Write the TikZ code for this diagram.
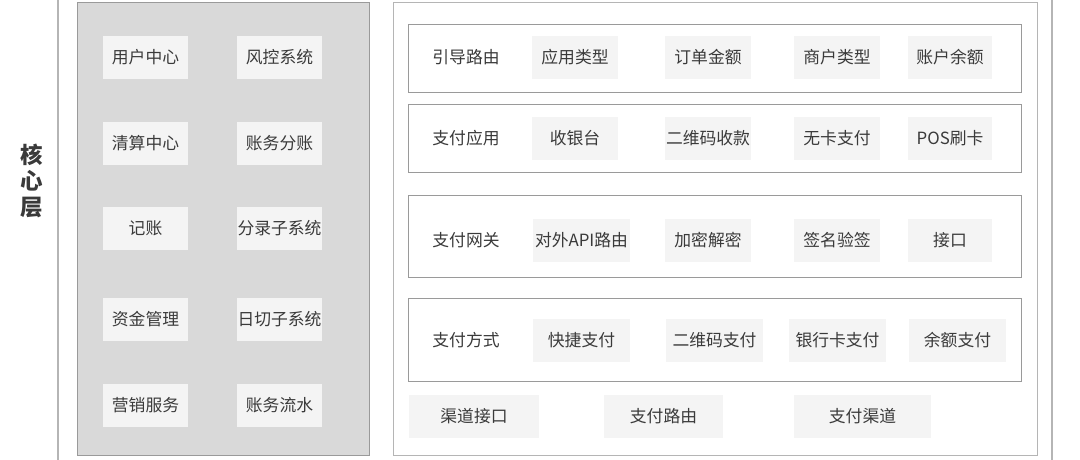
\documentclass[tikz,border=0pt]{standalone}
\usepackage{fontspec}
\setmainfont{Noto Sans CJK SC}
\begin{document}
\begin{tikzpicture}[x=1pt,y=-1pt,
  txt/.style={text=textgray, font=\fontsize{16.8}{19}\selectfont},
  item/.style={txt, fill=itemgray, minimum height=43pt, inner sep=0pt},
  lbox/.style={item, minimum width=85pt},
  rowbox/.style={draw=rowgray, line width=1pt, fill=white},
  lbl/.style={txt, inner sep=0pt}]
\definecolor{textgray}{HTML}{3A3A3A}
\definecolor{itemgray}{HTML}{F4F4F4}
\definecolor{rowgray}{HTML}{9A9A9A}
\definecolor{panelgray}{HTML}{D9D9D9}
\definecolor{framegray}{HTML}{B5B5B5}
\useasboundingbox (0,0) rectangle (1080,459);
\fill[white] (0,0) rectangle (1080,459);
% outer frame lines
\coordinate (ft1) at (58,-5); \coordinate (fb1) at (58,465);
\coordinate (ft2) at (1052,-5); \coordinate (fb2) at (1052,465);
\draw[framegray, line width=1.5pt] (ft1) -- (fb1);
\draw[framegray, line width=1.5pt] (ft2) -- (fb2);
% title
\node[text=textgray, font=\fontsize{22.5}{26}\selectfont\bfseries, align=center, inner sep=0pt] (title) at (32,181) {核\\心\\层};
% left panel
\node[draw=rowgray, line width=1pt, fill=panelgray, minimum width=292pt, minimum height=453pt, inner sep=0pt] (core) at (223,228.5) {};
\node[lbox] (l11) at (145.5,57.5) {用户中心};
\node[lbox] (l12) at (279.5,57.5) {风控系统};
\node[lbox] (l21) at (145.5,143.5) {清算中心};
\node[lbox] (l22) at (279.5,143.5) {账务分账};
\node[lbox] (l31) at (145.5,228.5) {记账};
\node[lbox] (l32) at (279.5,228.5) {分录子系统};
\node[lbox] (l41) at (145.5,319.5) {资金管理};
\node[lbox] (l42) at (279.5,319.5) {日切子系统};
\node[lbox] (l51) at (145.5,405.5) {营销服务};
\node[lbox] (l52) at (279.5,405.5) {账务流水};
% right panel
\node[draw=framegray, line width=1pt, fill=white, minimum width=644pt, minimum height=453pt, inner sep=0pt] (right) at (715,228.5) {};
\node[rowbox, minimum width=613pt, minimum height=68pt, inner sep=0pt] (r1) at (714.5,58) {};
\node[rowbox, minimum width=613pt, minimum height=68pt, inner sep=0pt] (r2) at (714.5,138) {};
\node[rowbox, minimum width=613pt, minimum height=82pt, inner sep=0pt] (r3) at (714.5,236) {};
\node[rowbox, minimum width=613pt, minimum height=83pt, inner sep=0pt] (r4) at (714.5,339.5) {};
% row 1
\node[lbl] (t1) at (466,57.5) {引导路由};
\node[item, minimum width=86pt] (a1) at (575,57.5) {应用类型};
\node[item, minimum width=86pt] (a2) at (708,57.5) {订单金额};
\node[item, minimum width=86pt] (a3) at (837,57.5) {商户类型};
\node[item, minimum width=84pt] (a4) at (950,57.5) {账户余额};
% row 2
\node[lbl] (t2) at (466,138.5) {支付应用};
\node[item, minimum width=86pt] (b1) at (575,138.5) {收银台};
\node[item, minimum width=86pt] (b2) at (708,138.5) {二维码收款};
\node[item, minimum width=86pt] (b3) at (837,138.5) {无卡支付};
\node[item, minimum width=84pt] (b4) at (950,138.5) {POS刷卡};
% row 3
\node[lbl] (t3) at (466,240.5) {支付网关};
\node[item, minimum width=97pt] (c1) at (581.5,240.5) {对外API路由};
\node[item, minimum width=86pt] (c2) at (708,240.5) {加密解密};
\node[item, minimum width=86pt] (c3) at (837,240.5) {签名验签};
\node[item, minimum width=84pt] (c4) at (950,240.5) {接口};
% row 4
\node[lbl] (t4) at (466,340) {支付方式};
\node[item, minimum width=97pt] (d1) at (581.5,340.5) {快捷支付};
\node[item, minimum width=97pt] (d2) at (714.5,340.5) {二维码支付};
\node[item, minimum width=97pt] (d3) at (837.5,340.5) {银行卡支付};
\node[item, minimum width=97pt] (d4) at (957.5,340.5) {余额支付};
% bottom
\node[item, minimum width=130pt] (e1) at (474,416.5) {渠道接口};
\node[item, minimum width=119pt] (e2) at (663.5,416.5) {支付路由};
\node[item, minimum width=137pt] (e3) at (862.5,416.5) {支付渠道};
\end{tikzpicture}
\end{document}
